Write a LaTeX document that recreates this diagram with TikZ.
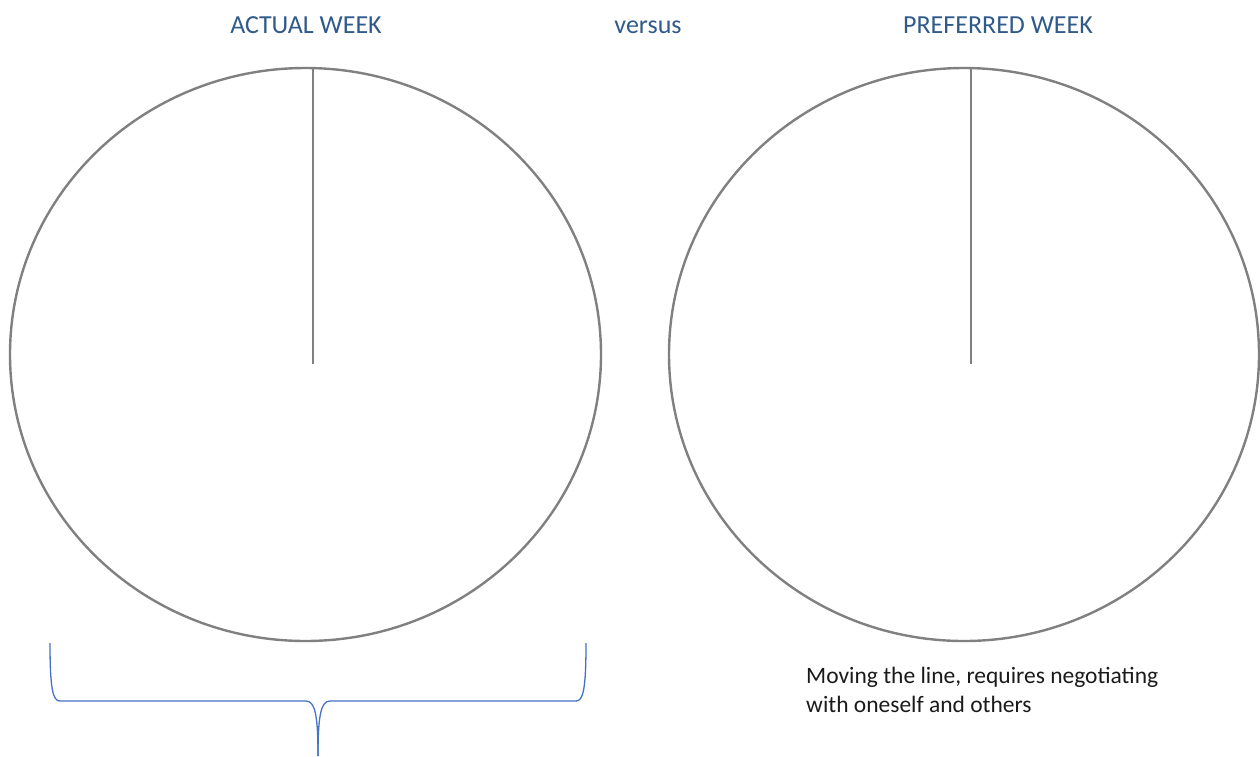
\documentclass[tikz,border=0pt]{standalone}
\usepackage{fontspec}
\setmainfont{Carlito}
\definecolor{ringgray}{HTML}{808080}
\definecolor{titleblue}{HTML}{2F5A8A}
\definecolor{braceblue}{HTML}{4472C4}
\definecolor{notetext}{HTML}{1A1A1A}
\begin{document}
\begin{tikzpicture}[x=1pt,y=-1pt,
  ring/.style={draw=ringgray,line width=2.4pt},
  divider/.style={draw=ringgray,line width=2.4pt},
  title/.style={text=titleblue,font=\fontsize{26}{30}\selectfont,inner sep=0pt,anchor=base},
  note/.style={text=notetext,font=\fontsize{23.5}{29}\selectfont,align=left,inner sep=0pt,anchor=base west},
  bracestyle/.style={draw=braceblue,line width=1.3pt}]
\useasboundingbox (0,0) rectangle (1260,756);
% titles
\node[title] (t1) at (306,33) {ACTUAL WEEK};
\node[title] (t2) at (648,33) {versus};
\node[title] (t3) at (998,33) {PREFERRED WEEK};
% circles
\draw[ring] (305.5,354.5) ellipse [x radius=295.5pt, y radius=286.5pt];
\draw[ring] (964,354.5) ellipse [x radius=295pt, y radius=286.5pt];
% dividers
\coordinate (ltop) at (313,68);
\coordinate (lcen) at (313,364);
\coordinate (rtop) at (971,68);
\coordinate (rcen) at (971,364);
\draw[divider] (ltop) -- (lcen);
\draw[divider] (rtop) -- (rcen);
% brace
\coordinate (bl) at (50,643);
\coordinate (br) at (586,643);
\coordinate (btip) at (318,756);
\draw[bracestyle] (bl) .. controls (50,690) and (53,701) .. (60,701) -- (306,701)
  .. controls (315,701) and (318,715) .. (btip);
\draw[bracestyle] (br) .. controls (586,690) and (583,701) .. (576,701) -- (330,701)
  .. controls (321,701) and (318,715) .. (btip);
% note
\node[note] (n1) at (806,712) {Moving the line, requires negotiating\\with oneself and others};
\end{tikzpicture}
\end{document}
